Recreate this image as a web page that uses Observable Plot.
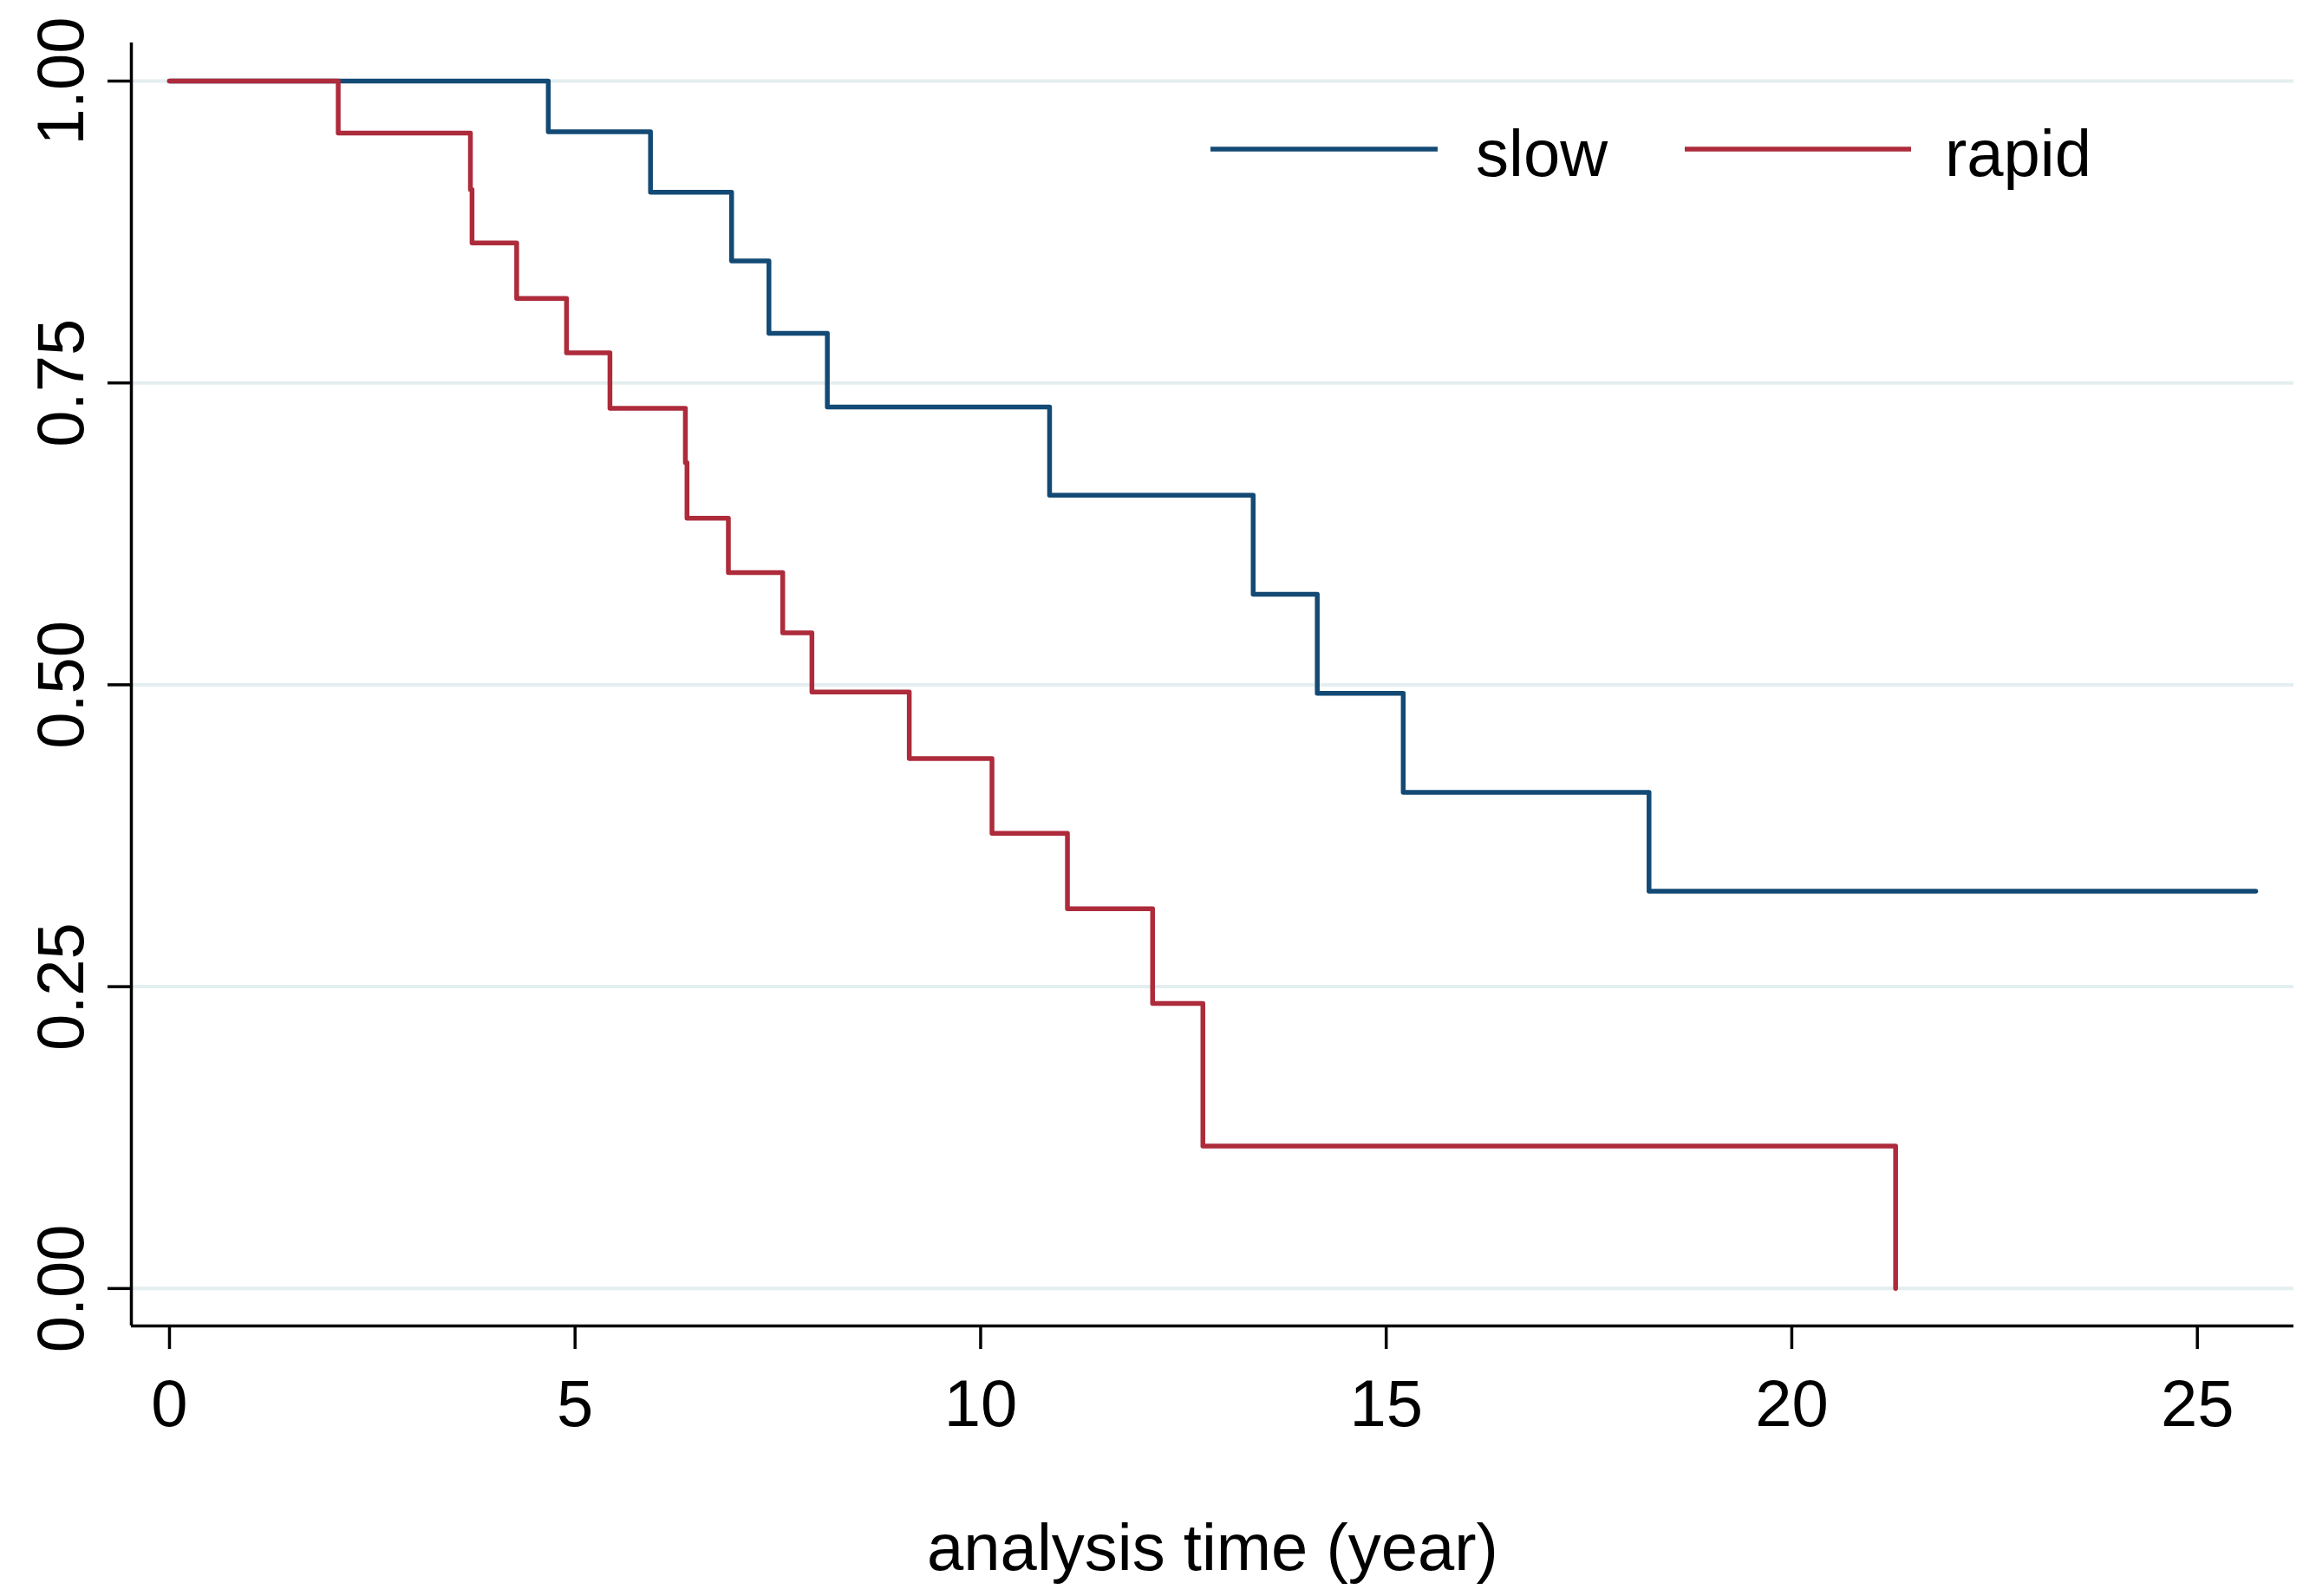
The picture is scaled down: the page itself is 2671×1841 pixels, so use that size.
<!DOCTYPE html>
<html><head><meta charset="utf-8">
<script src="https://cdn.jsdelivr.net/npm/d3@7"></script>
<script src="https://cdn.jsdelivr.net/npm/@observablehq/plot@0.6"></script>
<style>html,body{margin:0;padding:0;background:#fff;} svg{display:block}</style>
</head><body><div id="chart"></div>
<script>
// Kaplan-Meier step data
const slowTime = [0, 4.67, 5.93, 6.93, 7.39, 8.11, 10.85, 13.36, 14.15, 15.21, 18.24, 25.72];
const slowSurv = [1, 0.958, 0.908, 0.851, 0.791, 0.730, 0.657, 0.575, 0.493, 0.411, 0.329, 0.329];
const rapidTime = [0, 2.08, 3.71, 3.73, 4.28, 4.895, 5.43, 6.36, 6.38, 6.89, 7.56, 7.92, 9.12, 10.14, 11.07, 12.12, 12.74, 21.28];
const rapidSurv = [1, 0.957, 0.910, 0.866, 0.820, 0.775, 0.729, 0.684, 0.638, 0.593, 0.543, 0.494, 0.439, 0.377, 0.3146, 0.236, 0.118, 0];
const xTicks = [0, 5, 10, 15, 20, 25];
const yTicks = [0, 0.25, 0.5, 0.75, 1];
const seriesNames = ["slow", "rapid"];
const seriesColors = ["#134a75", "#ad2b3b"];
const xLabel = "analysis time (year)";
const xDomain = [-0.47, 26.19];
const yDomain = [-0.031, 1.0316];

const slow = slowTime.map((t, i) => ({time: t, surv: slowSurv[i], group: seriesNames[0]}));
const rapid = rapidTime.map((t, i) => ({time: t, surv: rapidSurv[i], group: seriesNames[1]}));

const font = "'Liberation Sans', Arial, Helvetica, sans-serif";
const fs = 76;

function legendMark() {
  const g = d3.create("svg:g").attr("font-family", font).attr("font-size", fs).attr("text-anchor", "start");
  const items = [
    {x1: 1396, x2: 1658, tx: 1702},
    {x1: 1943, x2: 2204, tx: 2243}
  ];
  items.forEach((it, i) => {
    g.append("line").attr("x1", it.x1).attr("x2", it.x2).attr("y1", 172).attr("y2", 172)
      .attr("stroke", seriesColors[i]).attr("stroke-width", 5.5);
    g.append("text").attr("x", it.tx).attr("y", 203).attr("fill", "#000")
      .attr("text-anchor", "start").text(seriesNames[i]);
  });
  return g.node();
}

const chart = Plot.plot({
  width: 2671, height: 1841,
  marginLeft: 151, marginRight: 26, marginTop: 49, marginBottom: 312,
  style: {fontFamily: font, fontSize: fs + "px", color: "#000", background: "#fff"},
  x: {domain: xDomain},
  y: {domain: yDomain},
  marks: [
    Plot.ruleY(yTicks, {stroke: "#e4eef0", strokeWidth: 4}),
    Plot.line(slow, {x: "time", y: "surv", curve: "step-after", stroke: seriesColors[0], strokeWidth: 5.5}),
    Plot.line(rapid, {x: "time", y: "surv", curve: "step-after", stroke: seriesColors[1], strokeWidth: 5.5}),
    Plot.ruleX([xDomain[0]], {stroke: "#000", strokeWidth: 3.5}),
    Plot.ruleY([yDomain[0]], {stroke: "#000", strokeWidth: 3.5}),
    Plot.axisX({ticks: xTicks, tickSize: 27, tickPadding: 35, tickFormat: d => String(d), fontSize: fs, strokeWidth: 3.5, label: null}),
    Plot.axisY({ticks: yTicks, tickSize: 27, tickPadding: 29, tickRotate: -90, tickFormat: d3.format(".2f"), fontSize: fs, strokeWidth: 3.5, label: null}),
    Plot.text([xLabel], {frameAnchor: "bottom", dy: 281, lineAnchor: "bottom", fontSize: fs, fill: "#000"}),
    legendMark
  ]
});
document.getElementById("chart").appendChild(chart);
</script>
</body></html>
